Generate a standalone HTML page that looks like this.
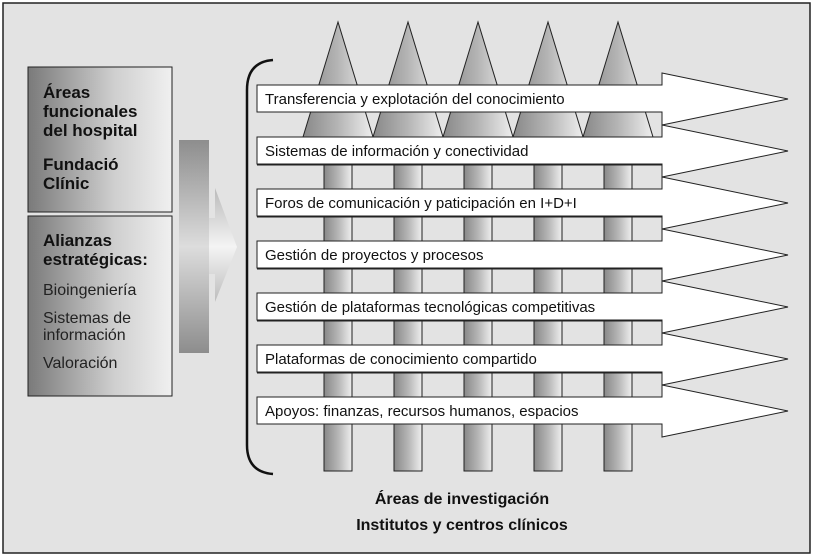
<!DOCTYPE html>
<html><head><meta charset="utf-8"><style>
body{margin:0;width:814px;height:558px;overflow:hidden;background:#fff}
svg{display:block}
.t{font-family:"Liberation Sans",sans-serif;font-size:15px;fill:#111}
.b{font-family:"Liberation Sans Narrow","Liberation Sans",sans-serif;font-weight:bold;fill:#111}
.n{font-family:"Liberation Sans",sans-serif;fill:#222;font-size:16px}
</style></head><body>
<svg width="814" height="558" viewBox="0 0 814 558">
<defs>
<linearGradient id="g" x1="0" x2="1"><stop offset="0" stop-color="#7a7a7a"/><stop offset="0.6" stop-color="#cfcfcf"/><stop offset="1" stop-color="#f0f0f0"/></linearGradient>
<linearGradient id="c" x1="0" x2="1"><stop offset="0" stop-color="#888"/><stop offset="0.5" stop-color="#b5b5b5"/><stop offset="1" stop-color="#eee"/></linearGradient>
<linearGradient id="v" x1="0" y1="0" x2="0" y2="1"><stop offset="0" stop-color="#8a8a8a"/><stop offset="0.5" stop-color="#f4f4f4"/><stop offset="1" stop-color="#8a8a8a"/></linearGradient>
</defs>
<rect x="3" y="3" width="807" height="550" fill="#e3e3e3" stroke="#222" stroke-width="1.5"/>
<rect x="28" y="67" width="144" height="145" fill="url(#g)" stroke="#222"/>
<rect x="28" y="216" width="144" height="180" fill="url(#g)" stroke="#222"/>
<text class="b" font-size="17"><tspan x="43" y="98">Áreas</tspan><tspan x="43" y="117">funcionales</tspan><tspan x="43" y="136">del hospital</tspan><tspan x="43" y="170">Fundació</tspan><tspan x="43" y="189">Clínic</tspan></text>
<text class="b" font-size="17"><tspan x="43" y="246">Alianzas</tspan><tspan x="43" y="265">estratégicas:</tspan></text>
<text class="n"><tspan x="43" y="295">Bioingeniería</tspan><tspan x="43" y="323">Sistemas de</tspan><tspan x="43" y="340">información</tspan><tspan x="43" y="368">Valoración</tspan></text>
<path d="M179,140 H209 V218 H215 V188 L237,247 L215,302 V274 H209 V353 H179 Z" fill="url(#v)"/>
<path d="M179,140 H209 V353 H179 Z" fill="#999" opacity="0.25"/>
<path d="M273,60 Q247,62 247,90 L247,445 Q247,472 273,474" fill="none" stroke="#111" stroke-width="2.5"/>
<g stroke="#222" stroke-width="1" fill="url(#c)">
<rect x="324" y="130" width="28" height="341"/><polygon points="338,22 303,137 373,137"/>
<rect x="394" y="130" width="28" height="341"/><polygon points="408,22 373,137 443,137"/>
<rect x="464" y="130" width="28" height="341"/><polygon points="478,22 443,137 513,137"/>
<rect x="534" y="130" width="28" height="341"/><polygon points="548,22 513,137 583,137"/>
<rect x="604" y="130" width="28" height="341"/><polygon points="618,22 583,137 653,137"/>
</g>
<g fill="none" stroke="#222" stroke-width="1">
<path d="M257,137 H662 M257,165 H662 M257,189 H662 M257,217 H662 M257,241 H662 M257,269 H662 M257,293 H662 M257,321 H662 M257,345 H662 M257,373 H662 M257,397 H662"/>
</g>
<g fill="#fff" stroke="#222" stroke-width="1">
<polygon points="257,85 662,85 662,73 788,99 662,125 662,112 257,112"/>
<polygon points="257,137 662,137 662,125 788,151 662,177 662,164 257,164"/>
<polygon points="257,189 662,189 662,177 788,203 662,229 662,216 257,216"/>
<polygon points="257,241 662,241 662,229 788,255 662,281 662,268 257,268"/>
<polygon points="257,293 662,293 662,281 788,307 662,333 662,320 257,320"/>
<polygon points="257,345 662,345 662,333 788,359 662,385 662,372 257,372"/>
<polygon points="257,397 662,397 662,385 788,411 662,437 662,424 257,424"/>
</g>
<g class="t">
<text x="265" y="104">Transferencia y explotación del conocimiento</text>
<text x="265" y="156">Sistemas de información y conectividad</text>
<text x="265" y="208">Foros de comunicación y paticipación en I+D+I</text>
<text x="265" y="260">Gestión de proyectos y procesos</text>
<text x="265" y="312">Gestión de plataformas tecnológicas competitivas</text>
<text x="265" y="364">Plataformas de conocimiento compartido</text>
<text x="265" y="416">Apoyos: finanzas, recursos humanos, espacios</text>
</g>
<text class="b" font-size="16" text-anchor="middle" x="462" y="504">Áreas de investigación</text>
<text class="b" font-size="16" text-anchor="middle" x="462" y="530">Institutos y centros clínicos</text>
</svg>
</body></html>
